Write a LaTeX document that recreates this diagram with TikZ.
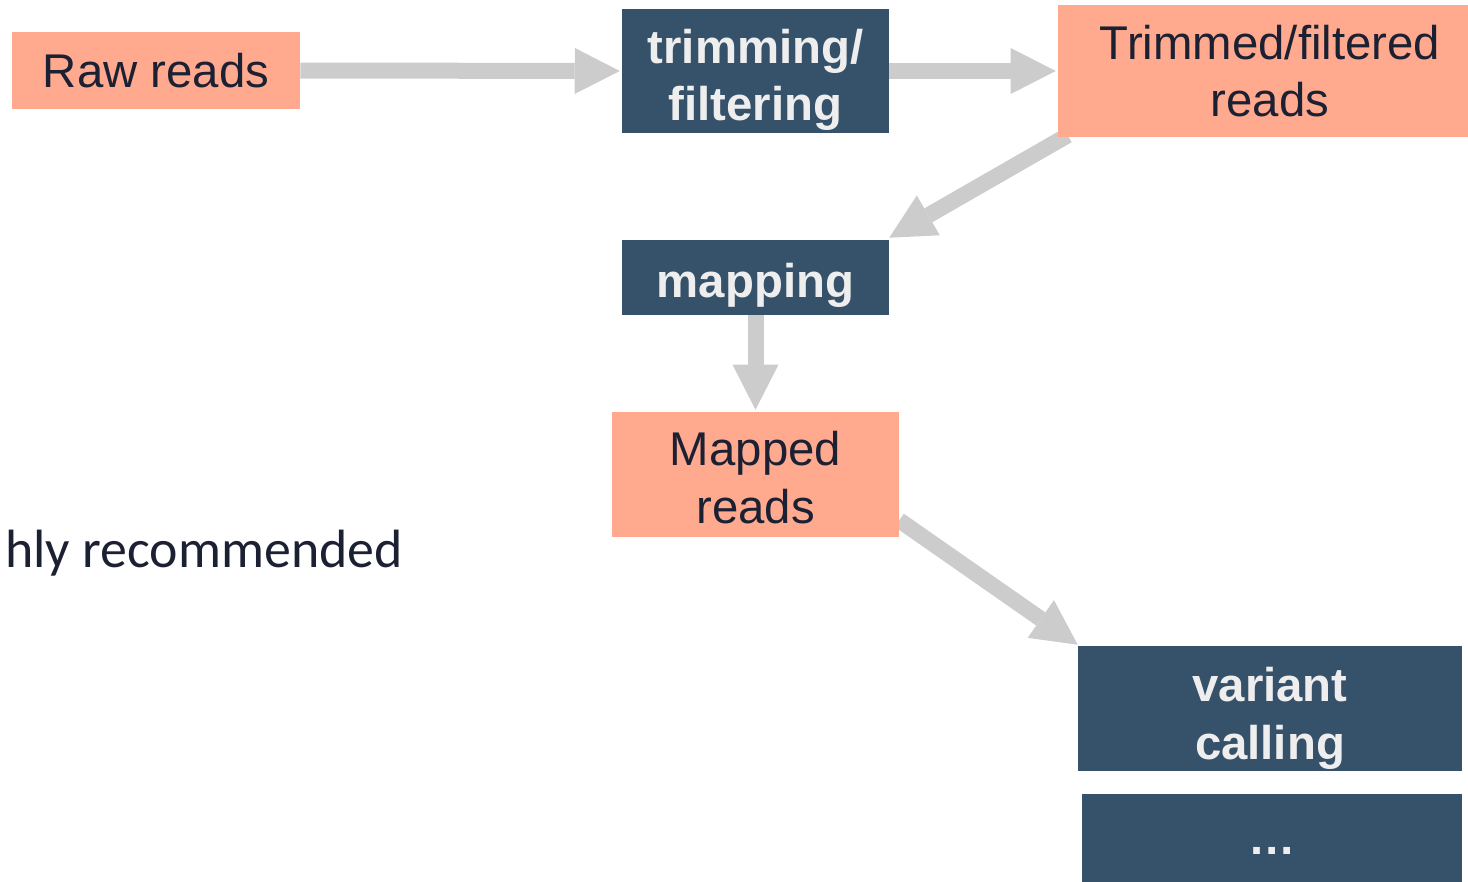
\documentclass[tikz,border=0pt]{standalone}
\usepackage{fontspec}
\setmainfont{Liberation Sans}
\newfontfamily\notefont{Carlito}
\usetikzlibrary{arrows.meta,calc}
\pgfdeclarelayer{bg}
\pgfsetlayers{bg,main}
\definecolor{salmon}{HTML}{FFA98F}
\definecolor{slate}{HTML}{36516A}
\definecolor{arrowgray}{HTML}{CCCCCC}
\definecolor{inkdark}{HTML}{1C2033}
\definecolor{paper}{HTML}{EEEEEE}
\tikzset{
  databox/.style={fill=salmon, text=inkdark, inner sep=0pt, align=center,
    font=\fontsize{35.5}{43}\selectfont},
  toolbox/.style={fill=slate, inner sep=0pt},
  tooltext/.style={text=paper, inner sep=0pt, align=center,
    font=\bfseries\fontsize{35.5}{43}\selectfont},
  flow/.style={draw=arrowgray, line width=12pt,
    -{Triangle[length=33.75pt, width=34.5pt, line width=0pt, fill=arrowgray]}}
}
\begin{document}
\begin{tikzpicture}[x=0.75pt, y=-0.75pt]
  \useasboundingbox (0,0) rectangle (1468,882);

  % data boxes (salmon)
  \node[databox, minimum width=216pt, minimum height=57.75pt] (raw) at (156,70.5) {Raw reads};
  \node[databox, minimum width=318pt, minimum height=99pt] (tfr) at (1270,71) {Trimmed/filtered\\reads};
  \node[databox, minimum width=215.25pt, minimum height=93.75pt] (mapped) at (755.5,474.5) {};
  \node[databox] (mapped-t) at ($(mapped)+(0,3)$) {Mapped\\reads};

  % tool boxes (slate) with their captions
  \node[toolbox, minimum width=200.25pt, minimum height=93pt] (trim) at (755.5,71) {};
  \node[tooltext] (trim-t) at ($(trim)+(0,9)$) {trimming/\\filtering};
  \node[toolbox, minimum width=200.25pt, minimum height=56.25pt] (map) at (755.5,277.5) {};
  \node[tooltext] (map-t) at ($(map)+(0,8)$) {mapping};
  \node[toolbox, minimum width=288pt, minimum height=93.75pt] (var) at (1270,708.5) {};
  \node[tooltext] (var-t) at ($(var)+(0,10)$) {variant\\calling};
  \node[toolbox, minimum width=285pt, minimum height=78pt] (more) at (1272,846) {};
  \node[tooltext] (more-t) at ($(more)+(0,5)$) {\dots};

  % side note
  \node[anchor=base east, inner sep=0pt, text=inkdark,
        font=\notefont\fontsize{40.4}{48}\selectfont] (note) at (403,567) {hly recommended};

  % connectors
  \begin{pgfonlayer}{bg}
    \draw[flow] (raw.east) -- ([xshift=-1.5pt]trim.west);
    \draw[flow] (trim.east) -- ([xshift=-1.5pt]tfr.west);
    \draw[flow] ([xshift=7.5pt, yshift=1.5pt]tfr.south west) -- ([yshift=1.5pt]map.north east);
    \draw[flow] (map.south) -- ([yshift=1.5pt]mapped.north);
    \draw[flow] ([yshift=12.75pt]mapped.south east) -- ([yshift=0.75pt]var.north west);
  \end{pgfonlayer}
\end{tikzpicture}
\end{document}
